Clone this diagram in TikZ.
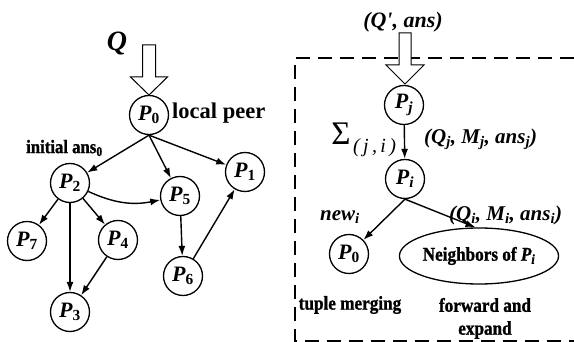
\documentclass[tikz,border=0pt]{standalone}
\usepackage{fontspec}
\setmainfont{Liberation Serif}
\newfontfamily\cnd[FakeStretch=0.88,FakeBold=1.2]{Liberation Serif}
\usetikzlibrary{arrows.meta,shapes.geometric}

\newcommand\fsz[1]{\fontsize{#1}{#1}\selectfont}
\newcommand\pp[1]{P\textsubscript{\upshape #1}}
\newcommand\pq[1]{P\textsubscript{#1}}

\tikzset{
  peer/.style={circle, draw, line width=1.3pt, minimum size=39pt, inner sep=0pt,
    font=\fsz{22}\bfseries\itshape},
  link/.style={line width=1.4pt, -{Latex[length=10pt,width=7pt]}},
  lbl/.style={inner sep=0pt, font=\cnd\fsz{19.5}\bfseries},
  msg/.style={inner sep=0pt, font=\fsz{21}\bfseries\itshape},
  hollow/.style={line width=1pt, fill=white, line join=miter},
  zone/.style={line width=1.5pt, dash pattern=on 14pt off 8pt},
}

\begin{document}
\begin{tikzpicture}[x=1pt, y=1pt]
  \useasboundingbox (0,0) rectangle (574,-342);

  % ---------- left: query spreading over the peer network ----------
  \node[inner sep=0pt, font=\fsz{28}\bfseries\itshape] (q) at (117,-44) {Q};
  \coordinate (qtop) at (149,-45);
  \draw[hollow] (qtop) ++(-6.5,0) -- ++(13,0) -- ++(0,-32) -- ++(12,0)
    -- ++(-18.5,-18) -- ++(-18.5,18) -- ++(12,0) -- cycle;

  \node[peer] (p0) at (149,-115) {\pp{0}};
  \node[peer] (p2) at (70,-183)  {\pp{2}};
  \node[peer] (p5) at (180,-196) {\pp{5}};
  \node[peer] (p1) at (245,-172) {\pp{1}};
  \node[peer] (p7) at (27,-241)  {\pp{7}};
  \node[peer] (p4) at (118,-240) {\pp{4}};
  \node[peer] (p6) at (183,-276) {\pp{6}};
  \node[peer] (p3) at (70,-312)  {\pp{3}};

  \node[inner sep=0pt, anchor=west, font=\fsz{22.5}\bfseries] (lp) at (172,-113) {local peer};
  \node[inner sep=0pt, anchor=west, font=\cnd\fsz{19}\bfseries] (ia) at (26,-148) {initial ans\textsubscript{0}};

  \draw[link] (p0.south) -- (p2);
  \draw[link] (p0.south) -- (p5);
  \draw[link] (p0.south) -- (p1);
  \draw[link] (p2) to[bend right=18] (p5);
  \draw[link] (p2) -- (p7);
  \draw[link] (p2) -- (p4);
  \draw[link] (p2) -- (p3);
  \draw[link] (p4) -- (p3);
  \draw[link] (p5) -- (p6);
  \draw[link] (p6) -- (p1);

  % ---------- right: processing at one peer ----------
  \draw[zone] (574,-58) -- (295,-58) -- (295,-341) -- (574,-341);

  \node[msg, font=\fsz{22}\bfseries\itshape] (qa) at (403,-22) {(Q\textquotesingle, ans)};
  \coordinate (qatop) at (405,-33);
  \draw[hollow] (qatop) ++(-6,0) -- ++(12,0) -- ++(0,-32) -- ++(13,0)
    -- ++(-19,-19) -- ++(-19,19) -- ++(13,0) -- cycle;

  \node[peer] (pj) at (404,-105) {\pq{j}};
  \node[peer] (pi) at (405,-179) {\pq{i}};
  \node[peer] (pz) at (349,-254) {\pp{0}};
  \node[ellipse, draw, line width=1.3pt, minimum width=140pt, minimum height=56pt,
        inner sep=0pt, font=\cnd\fsz{19.5}\bfseries] (nb) at (479,-256)
        {Neighbors of \textit{\pq{i}}};

  \node[inner sep=0pt, font=\fsz{33}] (sig) at (341,-134) {Σ};
  \node[inner sep=0pt, font=\fsz{20}\itshape, anchor=west] (sigsub) at (353,-148) {(\,j\,,\,i\,)};

  \node[msg, anchor=west] (mj) at (424,-139) {(Q\textsubscript{j}, M\textsubscript{j}, ans\textsubscript{j})};
  \node[msg, anchor=west] (nw) at (320,-217) {new\textsubscript{i}};
  \node[msg, anchor=west] (mi) at (449,-215) {(Q\textsubscript{i}, M\textsubscript{i}, ans\textsubscript{i})};

  \node[lbl] (tm) at (350,-305) {tuple merging};
  \node[lbl] (fw) at (485,-305) {forward and};
  \node[lbl] (ex) at (485,-330) {expand};

  \draw[link] (pj) -- (pi);
  \draw[link] (pi.south) -- (pz);
  \draw[link] (pi.south) -- (nb.97);
\end{tikzpicture}
\end{document}
